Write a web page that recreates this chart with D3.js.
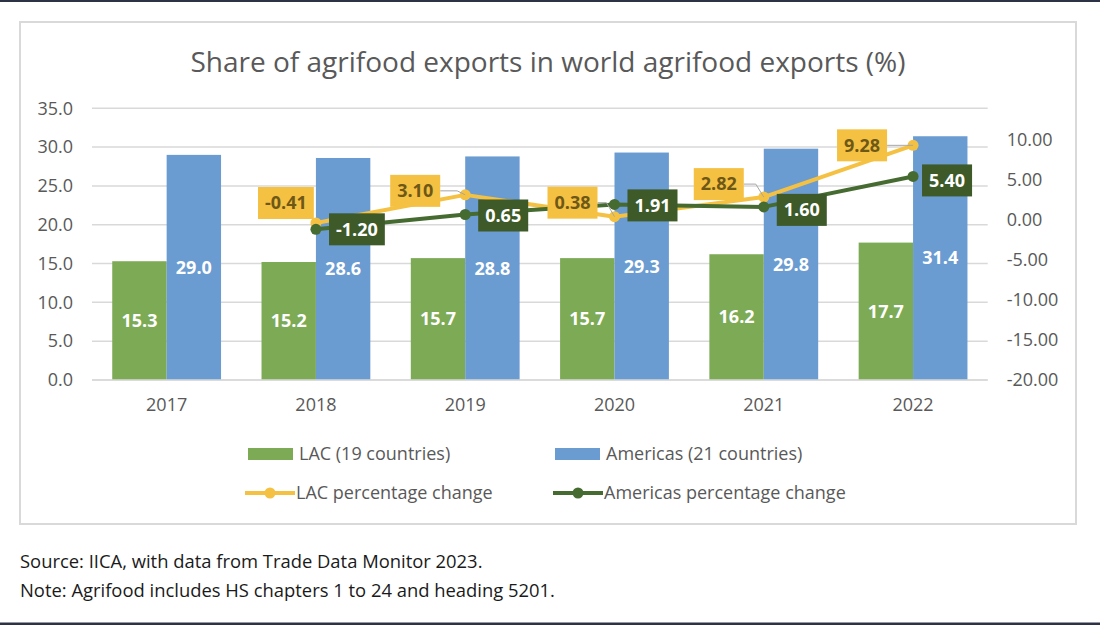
<!DOCTYPE html>
<html>
<head>
<meta charset="utf-8">
<script src="https://cdn.jsdelivr.net/npm/d3@7"></script>
<style>
  html, body { margin: 0; padding: 0; background: #ffffff; }
  svg { display: block; font-family: "Open Sans", "DejaVu Sans", sans-serif; }
</style>
</head>
<body>
<svg id="chart" width="1100" height="625"></svg>
<script>
// ---------------- DATA ----------------
const years = ["2017", "2018", "2019", "2020", "2021", "2022"];
const lacShare = [15.3, 15.2, 15.7, 15.7, 16.2, 17.7];
const americasShare = [29.0, 28.6, 28.8, 29.3, 29.8, 31.4];
const lacChange = [null, -0.41, 3.10, 0.38, 2.82, 9.28];
const americasChange = [null, -1.20, 0.65, 1.91, 1.60, 5.40];
const leftTicks = [0, 5, 10, 15, 20, 25, 30, 35];
const rightTicks = [-20, -15, -10, -5, 0, 5, 10];
const seriesNames = ["LAC (19 countries)", "Americas (21 countries)", "LAC percentage change", "Americas percentage change"];
const titleText = "Share of agrifood exports in world agrifood exports (%)";
const sourceLines = ["Source: IICA, with data from Trade Data Monitor 2023.", "Note: Agrifood includes HS chapters 1 to 24 and heading 5201."];

// label placement (offset of label box centre from its point, px)
const lacLabelOffset = [null, [-30, -20], [-50, -4], [-42, -14], [-45, -13], [-51, 0]];
const amLabelOffset = [null, [41, 0], [38, 1], [38, 1], [38, 3], [34, 4]];

// ---------------- STYLE ----------------
const C = {
  green: "#7DAA54", blue: "#6A9BD1", yellow: "#F5C142", yellowText: "#6E5817",
  dkgreen: "#466B31", dkgreenBox: "#3D5A28", grid: "#D9D9D9", axisText: "#595959"
};
const loc = d3.formatLocale({ decimal: ".", thousands: ",", grouping: [3], currency: ["", ""], minus: "-" });
const f1 = loc.format(".1f"), f2 = loc.format(".2f");

const svg = d3.select("#chart");

// page borders
svg.append("rect").attr("x", 0).attr("y", 0).attr("width", 1100).attr("height", 2).attr("fill", "#2E3246");
svg.append("rect").attr("x", 0).attr("y", 622.5).attr("width", 1100).attr("height", 2.5).attr("fill", "#2E3246");

// chart box
svg.append("rect").attr("x", 20).attr("y", 22).attr("width", 1056).attr("height", 502)
  .attr("fill", "#fff").attr("stroke", C.grid).attr("stroke-width", 2);

// title
svg.append("text").attr("x", 548).attr("y", 62).attr("dy", "0.35em")
  .attr("text-anchor", "middle").attr("font-size", 28).attr("fill", C.axisText).text(titleText);

// scales
const plotL = 92, plotR = 987.7, plotT = 108.3, plotB = 380;
const x = d3.scaleBand().domain(years).range([plotL, plotR]).padding(0);
const xs = d3.scaleBand().domain(["lac", "am"]).range([0, x.bandwidth()]).paddingInner(0).paddingOuter(0.372);
const yL = d3.scaleLinear().domain([0, 35]).range([plotB, plotT]);
const yR = d3.scaleLinear().domain([-20, 13.9]).range([plotB, plotT]);

// gridlines
svg.append("g").selectAll("line").data(leftTicks).join("line")
  .attr("x1", plotL).attr("x2", plotR)
  .attr("y1", d => yL(d)).attr("y2", d => yL(d))
  .attr("stroke", C.grid).attr("stroke-width", 1.5);

// left axis
const axL = svg.append("g").attr("transform", `translate(${plotL},0)`)
  .call(d3.axisLeft(yL).tickValues(leftTicks).tickFormat(f1).tickSize(0).tickPadding(19));
axL.select(".domain").remove();
axL.selectAll("text").attr("font-size", 18).attr("fill", C.axisText).attr("font-family", "Open Sans");

// right axis
const axR = svg.append("g").attr("transform", `translate(${plotR},0)`)
  .call(d3.axisRight(yR).tickValues(rightTicks).tickFormat(f2).tickSize(0).tickPadding(19));
axR.select(".domain").remove();
axR.selectAll("text").attr("font-size", 18).attr("fill", C.axisText).attr("font-family", "Open Sans");

// x axis labels
const axX = svg.append("g").attr("transform", `translate(0,${plotB})`)
  .call(d3.axisBottom(x).tickSize(0).tickPadding(18));
axX.select(".domain").remove();
axX.selectAll("text").attr("font-size", 18).attr("fill", C.axisText).attr("font-family", "Open Sans");

// bars
const barData = years.map((y, i) => ({ year: y, lac: lacShare[i], am: americasShare[i] }));
const groups = svg.append("g").selectAll("g").data(barData).join("g")
  .attr("transform", d => `translate(${x(d.year)},0)`);
[["lac", C.green], ["am", C.blue]].forEach(([k, col]) => {
  groups.append("rect")
    .attr("x", xs(k)).attr("width", xs.bandwidth())
    .attr("y", d => yL(d[k])).attr("height", d => yL(0) - yL(d[k]))
    .attr("fill", col);
  groups.append("text")
    .attr("x", xs(k) + xs.bandwidth() / 2)
    .attr("y", d => (yL(d[k]) + yL(0)) / 2).attr("dy", "0.35em")
    .attr("text-anchor", "middle").attr("font-size", 18).attr("font-weight", 700)
    .attr("fill", "#fff").text(d => f1(d[k]));
});

// baseline
svg.append("line").attr("x1", plotL).attr("x2", plotR).attr("y1", yL(0)).attr("y2", yL(0))
  .attr("stroke", C.grid).attr("stroke-width", 1.5);

// lines
const cx = yr => x(yr) + x.bandwidth() / 2;
function pts(arr, offs) {
  return years.map((y, i) => ({ year: y, v: arr[i], off: offs[i] })).filter(d => d.v !== null);
}
const lacPts = pts(lacChange, lacLabelOffset);
const amPts = pts(americasChange, amLabelOffset);
const line = d3.line().x(d => cx(d.year)).y(d => yR(d.v));

[[lacPts, C.yellow], [amPts, C.dkgreen]].forEach(([p, col]) => {
  svg.append("path").datum(p).attr("d", line).attr("fill", "none")
    .attr("stroke", col).attr("stroke-width", 4).attr("stroke-linejoin", "round");
  svg.append("g").selectAll("circle").data(p).join("circle")
    .attr("cx", d => cx(d.year)).attr("cy", d => yR(d.v)).attr("r", 5.5).attr("fill", col);
});

// data labels
function drawLabels(p, boxFill, textFill, leader) {
  const g = svg.append("g");
  p.forEach(d => {
    const px = cx(d.year), py = yR(d.v);
    const lx = px + d.off[0], ly = py + d.off[1];
    const t = g.append("text").attr("x", lx).attr("y", ly).attr("dy", "0.35em")
      .attr("text-anchor", "middle").attr("font-size", 18).attr("font-weight", 700)
      .attr("fill", textFill).text(f2(d.v));
    const w = t.node().getComputedTextLength() + 14, h = 32;
    if (leader) {
      const bx = lx + w / 2;
      if (px - bx > 6) {
        g.insert("path", "text")
          .attr("d", `M${bx},${ly}H${Math.max(bx, px - 8)}L${px},${py}`)
          .attr("fill", "none").attr("stroke", "#A6A6A6").attr("stroke-width", 1);
      }
    }
    g.insert("rect", "text").attr("x", lx - w / 2).attr("y", ly - h / 2)
      .attr("width", w).attr("height", h).attr("fill", boxFill);
  });
}
drawLabels(lacPts, C.yellow, C.yellowText, true);
drawLabels(amPts, C.dkgreenBox, "#ffffff", false);

// legend
const legend = svg.append("g").attr("font-size", 18).attr("fill", C.axisText);
const legItems = [
  { name: seriesNames[0], type: "bar", col: C.green, x: 248, y: 454 },
  { name: seriesNames[1], type: "bar", col: C.blue, x: 555, y: 454 },
  { name: seriesNames[2], type: "line", col: C.yellow, x: 245, y: 493 },
  { name: seriesNames[3], type: "line", col: C.dkgreen, x: 553, y: 493 }
];
legItems.forEach(it => {
  if (it.type === "bar") {
    legend.append("rect").attr("x", it.x).attr("y", it.y - 6).attr("width", 45).attr("height", 12).attr("fill", it.col);
  } else {
    legend.append("line").attr("x1", it.x).attr("x2", it.x + 50).attr("y1", it.y).attr("y2", it.y)
      .attr("stroke", it.col).attr("stroke-width", 4);
    legend.append("circle").attr("cx", it.x + 25).attr("cy", it.y).attr("r", 5.5).attr("fill", it.col);
  }
  legend.append("text").attr("x", it.x + 51).attr("y", it.y).attr("dy", "0.35em")
    .attr("fill", C.axisText).text(it.name);
});

// source / note
svg.append("g").selectAll("text").data(sourceLines).join("text")
  .attr("x", 20).attr("y", (d, i) => 562 + i * 28.5).attr("dy", "0.35em")
  .attr("font-size", 18.4).attr("fill", "#1a1a1a").text(d => d);
</script>
</body>
</html>
